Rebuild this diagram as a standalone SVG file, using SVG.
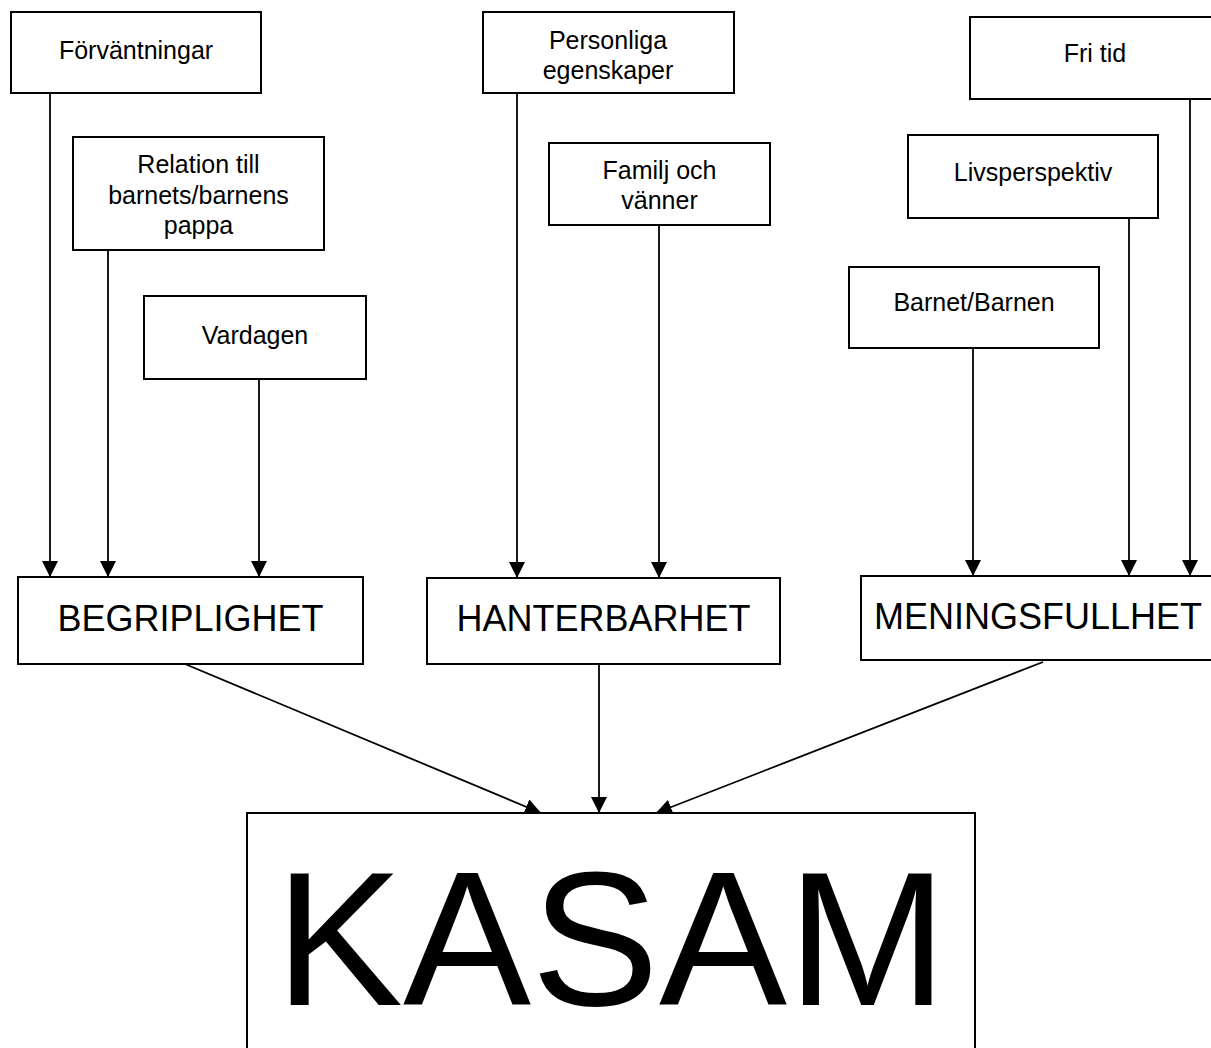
<svg xmlns="http://www.w3.org/2000/svg" width="1211" height="1048" viewBox="0 0 1211 1048">
<style>
.box{fill:#fff;stroke:#000;stroke-width:2}
.t{font-family:"Liberation Sans",Arial,sans-serif;font-size:25px;text-anchor:middle;fill:#000}
.m{font-family:"Liberation Sans",Arial,sans-serif;font-size:36px;text-anchor:middle;fill:#000}
.k{font-family:"Liberation Sans",Arial,sans-serif;font-size:192px;text-anchor:middle;fill:#000}
.c{stroke:#000;stroke-width:1.8;fill:none;marker-end:url(#ah)}
</style>
<defs>
<marker id="ah" viewBox="0 0 10 10" refX="10" refY="5" markerUnits="userSpaceOnUse" markerWidth="16" markerHeight="16" orient="auto">
<path d="M0,0 L10,5 L0,10 z" fill="#000"/>
</marker>
</defs>
<rect width="1211" height="1048" fill="#fff"/>
<g id="connectors">
<line class="c" x1="50" y1="93" x2="50" y2="577"/>
<line class="c" x1="108" y1="250" x2="108" y2="577"/>
<line class="c" x1="259" y1="379" x2="259" y2="577"/>
<line class="c" x1="517" y1="93" x2="517" y2="578"/>
<line class="c" x1="659" y1="225" x2="659" y2="578"/>
<line class="c" x1="973" y1="348" x2="973" y2="576"/>
<line class="c" x1="1129" y1="218" x2="1129" y2="576"/>
<line class="c" x1="1190" y1="99" x2="1190" y2="576"/>
<line class="c" x1="185" y1="664" x2="541" y2="813"/>
<line class="c" x1="599" y1="664" x2="599" y2="813"/>
<line class="c" x1="1043" y1="662" x2="656" y2="813"/>
</g>
<g id="n-forvantningar"><rect class="box" x="11" y="12" width="250" height="81"/><text class="t" x="136" y="59">Förväntningar</text></g>
<g id="n-relation"><rect class="box" x="73" y="137" width="251" height="113"/><text class="t" x="198.5" y="173">Relation till</text><text class="t" x="198.5" y="204">barnets/barnens</text><text class="t" x="198.5" y="234">pappa</text></g>
<g id="n-vardagen"><rect class="box" x="144" y="296" width="222" height="83"/><text class="t" x="255" y="344">Vardagen</text></g>
<g id="n-personliga"><rect class="box" x="483" y="12" width="251" height="81"/><text class="t" x="608" y="49">Personliga</text><text class="t" x="608" y="79">egenskaper</text></g>
<g id="n-familj"><rect class="box" x="549" y="143" width="221" height="82"/><text class="t" x="659.5" y="179">Familj och</text><text class="t" x="659.5" y="209">vänner</text></g>
<g id="n-fritid"><rect class="box" x="970" y="17" width="250" height="82"/><text class="t" x="1095" y="62">Fri tid</text></g>
<g id="n-livsperspektiv"><rect class="box" x="908" y="135" width="250" height="83"/><text class="t" x="1033" y="181">Livsperspektiv</text></g>
<g id="n-barnet"><rect class="box" x="849" y="267" width="250" height="81"/><text class="t" x="974" y="311">Barnet/Barnen</text></g>
<g id="n-begriplighet"><rect class="box" x="18" y="577" width="345" height="87"/><text class="m" x="190.5" y="631">BEGRIPLIGHET</text></g>
<g id="n-hanterbarhet"><rect class="box" x="427" y="578" width="353" height="86"/><text class="m" x="603.5" y="631">HANTERBARHET</text></g>
<g id="n-meningsfullhet"><rect class="box" x="861" y="576" width="354" height="84"/><text class="m" x="1038" y="629">MENINGSFULLHET</text></g>
<g id="n-kasam"><rect class="box" x="247" y="813" width="728" height="250"/><text class="k" x="611" y="1005">KASAM</text></g>
</svg>
